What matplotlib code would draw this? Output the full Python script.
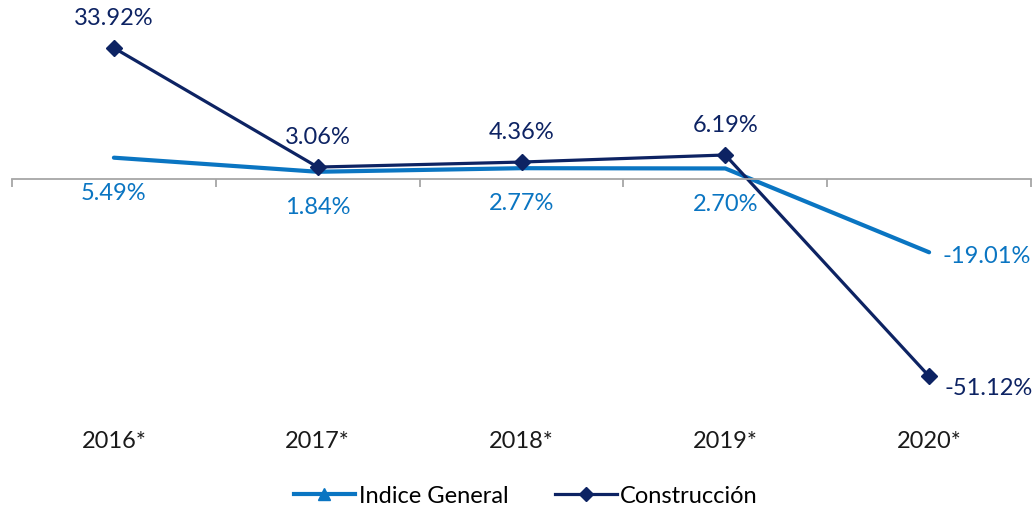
import numpy as np
import matplotlib.pyplot as plt
from matplotlib.lines import Line2D
from matplotlib.transforms import blended_transform_factory

years = ['2016*', '2017*', '2018*', '2019*', '2020*']
indice_general = [5.49, 1.84, 2.77, 2.70, -19.01]
construccion = [33.92, 3.06, 4.36, 6.19, -51.12]

light = '#0A75C2'
dark = '#0D2363'


def main():
    plt.rcParams['font.family'] = ['Lato', 'DejaVu Sans']
    fs = 17

    fig = plt.figure(figsize=(10.35, 5.06), dpi=100)
    ax = fig.add_axes([12 / 1035, 96 / 506, 1019 / 1035, 400 / 506])
    x = np.arange(len(years))

    ax.plot(x, indice_general, color=light, lw=3, solid_capstyle='round')
    ax.plot(x, construccion, color=dark, lw=2.3, marker='D', markersize=8)

    # data labels
    last = len(years) - 1
    for i, v in enumerate(construccion):
        if i == last:
            ax.annotate(f'{v:.2f}%', (i, v), xytext=(11, -8), textcoords='offset points',
                        ha='left', va='center', fontsize=fs, color=dark)
        else:
            ax.annotate(f'{v:.2f}%', (i, v), xytext=(0, 22), textcoords='offset points',
                        ha='center', va='center', fontsize=fs, color=dark)
    for i, v in enumerate(indice_general):
        if i == last:
            ax.annotate(f'{v:.2f}%', (i, v), xytext=(10, -2), textcoords='offset points',
                        ha='left', va='center', fontsize=fs, color=light)
        else:
            ax.annotate(f'{v:.2f}%', (i, v), xytext=(0, -25), textcoords='offset points',
                        ha='center', va='center', fontsize=fs, color=light)

    ax.set_xlim(-0.5, len(years) - 0.5)
    ax.set_ylim(-59.6, 44.0)

    # zero axis with boundary ticks
    for s in ['left', 'right', 'top']:
        ax.spines[s].set_visible(False)
    ax.spines['bottom'].set_position(('data', 0))
    ax.spines['bottom'].set_color('#A6A6A6')
    ax.spines['bottom'].set_linewidth(1.3)
    ax.set_yticks([])
    ax.set_xticks(np.arange(len(years) + 1) - 0.5)
    ax.set_xticklabels([])
    ax.tick_params(axis='x', direction='out', length=6, width=1.3, color='#A6A6A6')

    trans = blended_transform_factory(ax.transData, ax.transAxes)
    for i, lab in enumerate(years):
        ax.text(i, -0.078, lab, transform=trans, ha='center', va='center',
                fontsize=fs, color='#1a1a1a')

    handles = [Line2D([], [], color=light, lw=3, marker='^', markersize=9),
               Line2D([], [], color=dark, lw=2.3, marker='D', markersize=7)]
    fig.legend(handles, ['Indice General', 'Construcción'], loc='center',
               bbox_to_anchor=(0.508, 0.019), ncol=2, frameon=False, fontsize=fs,
               handlelength=2.6, handletextpad=0.15, columnspacing=2.0)

    fig.savefig('out.png', dpi=100)


if __name__ == "__main__":
    main()
